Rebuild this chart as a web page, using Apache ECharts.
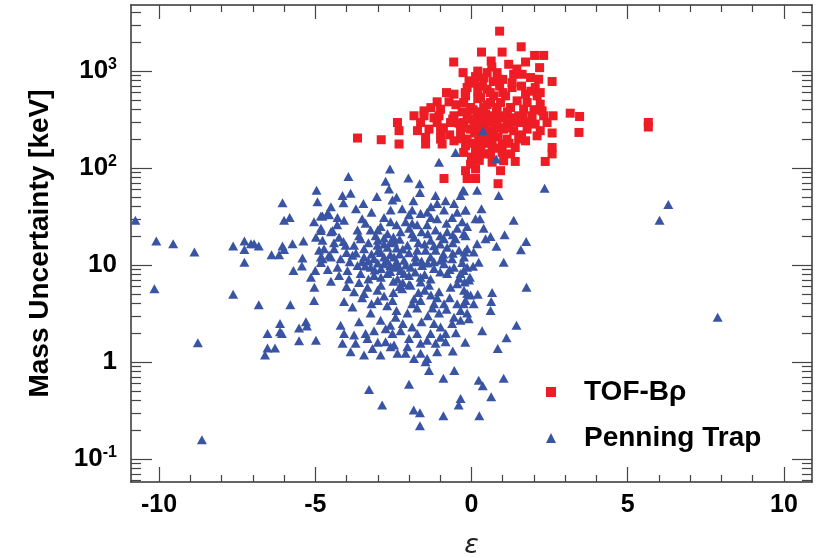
<!DOCTYPE html>
<html>
<head>
<meta charset="utf-8">
<script src="https://cdn.jsdelivr.net/npm/echarts@6/dist/echarts.min.js"></script>
<style>
  html, body { margin: 0; padding: 0; background: #fff; }
  #chart { width: 828px; height: 558px; }
</style>
</head>
<body>
<div id="chart"></div>
<script>
// [epsilon, mass uncertainty keV]
const tofBrho = [
  [0.90,2580],[0.32,1570],[0.98,1570],[1.59,1780],[0.63,1270],[-0.57,1240],[2.02,1450],[2.31,1450],[1.73,1240],[2.18,1085],
  [-0.27,964],[0.13,877],[1.19,1175],[2.58,780],[0.50,964],[0.82,964],
  [-0.08,793],[0.87,824],[1.35,927],[1.62,927],[1.89,857],[2.15,824],
  [-0.14,676],[0.50,650],[1.30,676],[2.04,676],
  [-0.56,578],[-0.19,555],[0.29,533],[0.71,555],[1.09,555],[1.73,578],[2.10,555],
  [-1.10,482],[-0.72,482],[-0.25,474],[0.61,474],[0.93,474],[1.46,493],[1.78,474],
  [-1.52,389],[-0.99,405],[-0.03,421],[0.39,421],[0.82,421],[1.25,421],[1.67,405],[2.20,456],[2.26,389],
  [-1.84,346],[-1.52,346],[-1.04,346],[-0.56,346],[-0.14,346],[0.18,346],[0.61,346],[1.03,346],[1.51,346],[1.94,346],[2.31,346],[2.61,346],[3.16,368],[3.46,340],
  [-2.37,295],[-1.63,295],[-1.10,295],[-0.67,295],[-0.25,295],[0.08,295],[0.82,295],[1.14,295],[1.57,295],[2.04,284],[2.42,295],
  [-2.32,243],[-1.73,243],[-1.36,252],[-0.99,243],[-0.35,243],[-0.03,252],[0.61,243],[1.03,252],[1.35,243],[1.78,252],[2.20,243],[2.58,230],[3.44,233],
  [-3.65,204],[-2.89,196],[-2.32,177],[-1.47,207],[-0.99,199],[-0.56,191],[-0.14,199],[0.23,199],[0.66,199],[1.14,199],[1.51,199],[1.73,191],[2.10,215],
  [-1.47,177],[-0.94,177],[-0.19,170],[0.13,163],[0.66,163],[0.98,177],[1.40,163],[2.58,163],
  [-0.25,145],[0.13,140],[0.61,140],[0.98,145],[2.58,140],
  [-0.03,110],[0.66,115],[1.03,119],[1.40,117],[2.36,117],
  [-0.19,94],[0.13,98],[0.93,94],
  [-0.88,78],[-0.14,78],[0.13,78],[0.85,69],
  [5.66,295],[5.66,265],
  [0.30,380],[0.50,300],[0.40,250],[0.20,270],[0.90,260],[0.70,320],[0.40,190],[0.00,320],[-0.30,380],[0.80,380],
  [1.20,260],[0.50,220],[0.30,170],[0.70,230],[0.10,230],[-0.40,290],[1.30,330],[0.60,600],[0.20,620],[0.35,700],
  [0.90,700],[0.20,520],[0.50,450],[1.00,600],
  [-0.80,600],[-0.50,450],[-0.20,600],[0.10,750],[0.40,850],[0.70,780],[1.00,820],[1.30,760],[1.60,700],[1.90,620],
  [-0.60,320],[-0.30,260],[0.05,400],[0.25,300],[0.45,360],[0.75,270],[0.95,330],[1.15,380],[1.40,300],[1.65,340],
  [1.85,300],[2.00,400],[-0.90,260],[-1.20,330],[-1.30,420],[-0.70,220],[0.30,220],[0.85,210],[1.20,180],[1.60,220],
  [0.55,180],[0.00,180],[-0.35,200],[0.40,140],[0.80,160],[0.25,120],[1.25,140],[0.00,130],[2.20,600],[1.45,1050],
  [0.65,1100],[0.20,1000]
];

const penningTrap = [
  [-10.76,29],[-10.09,17.7],[-9.55,16.6],[-8.87,13.6],[-10.15,5.7],[-8.76,1.58],[-8.63,0.158],
  [-7.63,15.7],[-7.27,17.7],[-7.27,14.5],[-7.06,16.6],[-6.96,16.6],[-6.81,15.7],[-7.27,10.7],[-7.63,5.0],[-6.81,3.9],
  [-6.40,12.8],[-6.16,12.8],[-6.05,44],[-6.0,29],[-5.82,31],[-6.05,15.7],[-6.0,14.5],[-5.73,16.6],[-5.38,17.7],[-5.41,11.8],
  [-5.43,9.8],[-5.70,8.8],[-5.14,7.5],[-5.03,5.9],[-5.04,4.3],[-5.80,3.9],
  [-6.53,1.97],[-6.13,2.5],[-6.13,2.05],[-6.07,1.97],[-6.53,1.40],[-6.29,1.40],[-6.61,1.18],
  [-5.52,2.25],[-5.30,2.6],[-5.27,2.36],[-5.52,1.66],[-4.98,1.68],
  [-4.96,59],[-4.93,45],[-5.04,28],[-4.77,32],[-4.56,33],
  [-4.98,19.4],[-4.82,22.7],[-4.77,18],[-4.45,22.7],
  [-4.88,14.2],[-4.77,11.6],[-4.56,12.6],[-4.82,10.6],[-5.0,8.8],
  [-2.61,98],[-1.04,115],[-3.94,82],[-2.02,79],[-2.75,73],[-1.66,69],[-2.64,61],[-1.65,56],[-3.87,55],[-4.13,52],
  [-3.03,51],[-2.53,47],[-3.46,43],[-4.10,44],[-1.86,46],[-1.15,52],[-0.83,46],[-0.24,58],[-0.35,52],[-1.10,43],[-0.56,43],[-1.90,37],
  [-4.61,34],[-4.82,32],[-4.29,31],[-4.08,29],[-2.22,38],[-2.59,37],[-1.63,34],[-1.42,35],[-0.88,37],[-0.46,35],[-0.19,37],[-0.62,31],[-1.10,30],
  [-3.39,27],[-3.65,23],[-3.23,23],[-2.91,25],[-2.59,28],[-2.11,28],[-1.74,26],[-1.42,26],[-1.15,23],[-0.78,22],[-0.46,24],[-0.14,25],
  [-4.82,24],[-4.50,22],[-4.24,19.4],[-3.55,18.7],[-3.07,20],[-2.69,21],[-2.27,22],[-1.84,19.4],[-1.31,18],[-0.88,18.7],[-0.51,18.7],[-0.19,20],
  [-4.72,14.7],[-4.40,14.7],[-4.03,16],[-3.76,16],[-3.44,14.7],[-3.01,16],[-2.69,15.3],[-2.48,17.3],[-2.05,16],[-1.74,14.2],[-1.47,14.2],
  [-1.15,14.2],[-0.78,15.3],[-0.40,14.2],[-0.14,14.7],
  [-4.82,12.1],[-4.50,12.1],[-4.19,11.6],[-3.81,12.6],[-3.44,12.1],[-3.12,11.6],[-2.80,12.1],[-2.48,12.1],[-2.16,11.2],[-1.79,12.1],
  [-1.31,12.1],[-0.99,11.2],[-0.62,11.6],[-0.24,12.1],
  [-4.29,9.5],[-3.97,8.8],[-3.65,9.9],[-3.23,9.5],[-2.80,10.3],[-2.48,9.5],[-2.27,8.8],[-1.95,9.5],[-1.58,9.9],[-1.20,9.2],[-0.88,10.3],[-0.56,9.5],[-0.14,9.5],
  [-4.24,7.8],[-3.92,7.2],[-3.55,8.2],[-3.12,7.8],[-2.69,8.2],[-2.37,7.2],[-2.16,8.2],[-1.63,7.5],[-1.31,7.2],[-0.78,8.2],[-0.35,8.2],[-0.08,7.0],
  [-3.76,5.3],[-3.33,5.9],[-3.01,5.5],[-2.22,5.7],[-1.95,6.2],[-1.63,6.7],[-1.36,6.2],[-1.04,5.3],[-0.67,5.9],[-0.46,6.4],[-0.24,5.5],
  [-4.08,4.2],[-3.81,3.7],[-3.44,5.1],[-2.53,4.3],[-1.84,4.5],[-1.63,4.3],[-1.20,4.0],[-0.88,4.0],[-0.46,4.0],[-0.19,4.3],[-0.03,4.9],
  [-3.23,3.2],[-2.91,2.7],[-2.43,2.9],[-2.05,3.2],[-1.74,3.6],[-1.25,3.6],[-1.04,3.2],[-0.56,2.9],[-0.35,3.4],[-0.14,3.2],
  [-4.19,2.4],[-4.08,1.97],[-3.76,1.9],[-3.39,1.97],[-3.12,2.1],[-2.75,2.2],[-2.53,1.97],[-2.27,2.1],[-1.90,2.3],[-1.74,1.97],
  [-1.31,1.97],[-0.99,2.3],[-0.83,1.97],[-0.62,2.5],[-0.35,2.7],
  [-4.13,1.56],[-3.71,1.56],[-3.33,1.75],[-2.75,1.62],[-2.48,1.50],[-2.05,1.44],[-1.63,1.56],[-1.42,1.68],[-1.15,1.56],[-0.83,1.62],
  [-3.87,1.28],[-3.44,1.18],[-3.17,1.38],[-2.91,1.18],[-2.59,1.44],[-2.37,1.23],[-2.11,1.23],[-1.84,1.09],[-1.63,1.23],[-1.42,1.09],[-1.10,1.28],
  [-1.47,1.01],[-1.36,0.82],[-0.55,0.82],[-0.90,0.68],[-2.0,0.59],[-3.28,0.52],[-2.86,0.36],[-1.85,0.32],[-1.65,0.30],[-0.90,0.28],
  [-1.65,0.22],[-0.35,0.42],[-0.41,0.36],
  [0.23,0.65],[0.36,0.57],[1.03,0.68],[0.63,0.44],[0.25,0.28],
  [0.37,242],[0.79,124],[-0.27,59],[0.18,59],[0.87,52],[2.34,62],[-0.19,37],[0.32,38],[1.35,29],[0.13,30],[0.27,30],
  [0.39,24],[0.61,19.7],[0.45,18.7],[1.06,20.5],[0.80,15.6],[1.75,17.5],[1.58,14.4],[-0.25,21],[0.18,16.6],[-0.22,13.6],
  [0.07,13.6],[0.23,10.7],[0.05,9.7],[1.03,10.7],[-0.25,8.8],[-0.05,7.5],[-0.22,6.7],[1.76,5.9],[-0.14,5.1],[0.20,5.0],
  [0.66,5.2],[-0.25,4.0],[0.07,4.0],[0.63,4.2],[0.61,3.4],[-0.09,2.8],[1.44,2.4],[0.34,2.1],[1.12,1.78],[0.84,1.38],
  [6.30,42],[6.02,29],[7.88,2.9],[-0.51,145],
  [-3.6,20],[-3.3,17],[-3.0,18],[-2.8,19],[-2.6,17],[-2.4,15],[-3.2,13],[-2.9,13.5],[-2.6,12.8],[-2.3,13],
  [-3.5,10.8],[-3.0,10.5],[-2.7,11],[-2.4,10.8],[-2.1,10],[-3.4,9.8],[-3.1,8.9],[-2.9,9.2],[-2.6,8.6],[-2.35,9.9],
  [-3.3,7.2],[-2.9,7.5],[-2.5,6.8],[-2.0,7.8],[-1.8,8.5],[-1.5,8.0],[-2.0,6.3],[-2.3,6.0],[-1.7,5.2],[-2.5,5.2],
  [-3.9,10.8],[-4.0,13.5],[-1.2,10.8],[-0.9,13],[-0.6,17],[-1.0,20],[-1.6,22],[-2.0,24],[-2.4,26],[-2.8,31],
  [-3.0,14],[-2.8,16.5],[-2.3,18.5],[-1.9,21],[-1.5,16.5],[-1.2,15.8],[-0.9,11.8],[-0.6,13.2],[-0.3,10.6],[-1.6,11.0],
  [-2.0,13.4],[-2.6,9.9],[-3.3,11.0],[-3.7,13.3],[-4.1,17.5],[-2.2,6.6],[-1.5,5.5],[-1.1,4.6],[-0.8,3.5],[-1.4,3.0],
  [-2.7,3.8],[-3.0,4.3],[-2.2,2.5],[-1.6,2.6],[-1.0,1.8],[-0.5,2.0],[-2.0,1.75],[-3.0,1.6],[-1.9,27],[-1.3,31],
  [-4.4,17],[-4.6,9.0],[-4.0,6.0],[-3.6,6.6],[-3.2,4.0],[-2.8,4.8],[-2.4,3.4],[-1.9,4.0],[-1.3,4.9],[-0.7,4.6],
  [-0.4,7.3],[-0.7,9.0],[-1.0,8.5],[-1.4,10.5],[-1.8,10.8],[-2.2,14.6],[-2.5,19.5],[-3.0,23],[-3.5,30],[-4.3,26],
  [-1.0,16.5],[-0.6,20.5],[-0.3,28],[-1.3,40],[-2.0,33],[-3.2,35],[-3.7,38],[-4.5,40],[-2.4,50],[-1.4,21],
  [-0.8,27],[-1.7,17],[-2.9,6.2],[-3.5,4.6],[-4.5,6.8],[-1.2,2.5],[-2.6,2.4],[-3.6,2.6],[-0.2,1.6],[-0.6,1.3]
];

const xMajor = [-10, -5, 0, 5, 10];
const xMinor = [-9, -8, -7, -6, -4, -3, -2, -1, 1, 2, 3, 4, 6, 7, 8, 9];
const yMajor = [0.1, 1, 10, 100, 1000];
const yMinor = [0.06, 0.07, 0.08, 0.09,
  0.2, 0.3, 0.4, 0.5, 0.6, 0.7, 0.8, 0.9,
  2, 3, 4, 5, 6, 7, 8, 9,
  20, 30, 40, 50, 60, 70, 80, 90,
  200, 300, 400, 500, 600, 700, 800, 900,
  2000, 3000, 4000];

const X_MIN = -10.9, X_MAX = 10.9;
const Y_MIN = 0.058, Y_MAX = 4800;

const font = "'Liberation Sans', Arial, sans-serif";
const frameLine = { show: true, onZero: false, lineStyle: { color: "#333", width: 1.5 } };
const noLine = { show: false, onZero: false };
const tickStyle = { color: "#444", width: 1.2 };

// 1 -> "1", 10 -> "10", others -> 10^n
const yLabel = (v) => {
  const e = Math.round(Math.log10(v));
  if (e === 0) return "{b|1}";
  if (e === 1) return "{b|10}";
  return "{b|10}{s|" + e + "}";
};

const xAxisOf = (position, ticks, len, withLabel) => ({
  type: "value",
  position: position,
  min: X_MIN,
  max: X_MAX,
  axisLine: withLabel !== null ? frameLine : noLine,
  axisTick: { show: true, inside: true, length: len, customValues: ticks, lineStyle: tickStyle },
  axisLabel: withLabel ? {
    show: true,
    customValues: xMajor,
    margin: 11,
    color: "#000",
    fontSize: 25,
    fontWeight: "bold",
    fontFamily: font
  } : { show: false },
  splitLine: { show: false }
});

const yAxisOf = (position, ticks, len, withLabel) => ({
  type: "log",
  logBase: 10,
  position: position,
  min: Y_MIN,
  max: Y_MAX,
  axisLine: withLabel !== null ? frameLine : noLine,
  axisTick: { show: true, inside: true, length: len, customValues: ticks, lineStyle: tickStyle },
  axisLabel: withLabel ? {
    show: true,
    customValues: yMajor,
    margin: 14,
    color: "#000",
    formatter: yLabel,
    rich: {
      b: { fontSize: 26, fontWeight: "bold", fontFamily: font, color: "#000" },
      s: { fontSize: 16, fontWeight: "bold", fontFamily: font, color: "#000", padding: [0, 0, 12, 0] }
    }
  } : { show: false },
  splitLine: { show: false }
});

const xBottom = xAxisOf("bottom", xMajor, 15, true);
xBottom.name = "ε";
xBottom.nameLocation = "middle";
xBottom.nameGap = 50;
xBottom.nameTextStyle = { fontSize: 27, fontStyle: "italic", color: "#222", fontFamily: "'DejaVu Sans', sans-serif" };

const yLeft = yAxisOf("left", yMajor, 21, true);
yLeft.name = "Mass Uncertainty [keV]";
yLeft.nameLocation = "middle";
yLeft.nameGap = 77;
yLeft.nameTextStyle = { fontSize: 28, fontWeight: "bold", color: "#000", fontFamily: font };

const chart = echarts.init(document.getElementById("chart"));
chart.setOption({
  animation: false,
  backgroundColor: "#fff",
  grid: { left: 131, right: 16, top: 5, bottom: 76, containLabel: false, outerBoundsMode: "none" },
  xAxis: [
    xBottom,
    xAxisOf("bottom", xMinor, 7, null),
    xAxisOf("top", xMajor, 14, false),
    xAxisOf("top", xMinor, 7, null)
  ],
  yAxis: [
    yLeft,
    yAxisOf("left", yMinor, 10, null),
    yAxisOf("right", yMajor, 20, false),
    yAxisOf("right", yMinor, 10, null)
  ],
  legend: {
    orient: "vertical",
    left: 541,
    top: 373,
    itemWidth: 10,
    itemHeight: 10,
    itemGap: 18,
    textStyle: { fontSize: 28, fontWeight: "bold", color: "#000", fontFamily: font, padding: [0, 0, 0, 23] },
    data: [
      { name: "TOF-Bρ", icon: "rect" },
      { name: "Penning Trap", icon: "triangle" }
    ]
  },
  series: [
    {
      name: "TOF-Bρ",
      type: "scatter",
      xAxisIndex: 0,
      yAxisIndex: 0,
      data: tofBrho,
      symbol: "rect",
      symbolSize: 9,
      itemStyle: { color: "#ee1c24", opacity: 1 }
    },
    {
      name: "Penning Trap",
      type: "scatter",
      xAxisIndex: 0,
      yAxisIndex: 0,
      data: penningTrap,
      symbol: "triangle",
      symbolSize: [10, 9],
      itemStyle: { color: "#3a54a4", opacity: 1 }
    }
  ]
});
</script>
</body>
</html>
